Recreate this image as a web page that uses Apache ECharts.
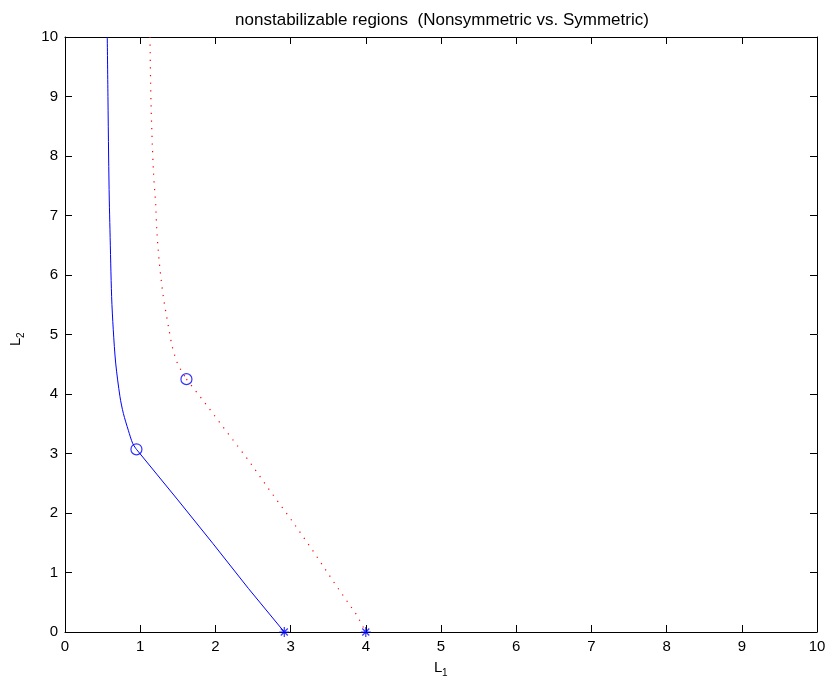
<!DOCTYPE html>
<html>
<head>
<meta charset="utf-8">
<script src="https://cdn.jsdelivr.net/npm/echarts@6/dist/echarts.min.js"></script>
<style>
  html, body { margin: 0; padding: 0; background: #fff; }
  #chart { width: 829px; height: 678px; }
</style>
</head>
<body>
<div id="chart"></div>
<script>
// Nonsymmetric boundary, curved upper branch down to the corner point: [L1, L2]
var nonsymUpperL1 = [0.562, 0.571, 0.580, 0.589, 0.598, 0.620, 0.642, 0.674, 0.731, 0.776, 0.842, 0.900, 0.950];
var nonsymUpperL2 = [10.00, 9.00, 8.00, 7.26, 6.76, 5.64, 5.08, 4.52, 3.955, 3.675, 3.39, 3.17, 3.07];
// Nonsymmetric boundary, straight lower branch from the corner to the L1 axis
var nonsymLowerL1 = [0.950, 1.500, 1.965, 2.440, 2.916];
var nonsymLowerL2 = [3.07, 2.22, 1.49, 0.73, 0.00];

// Symmetric boundary, curved upper branch down to the corner point
var symUpperL1 = [1.130, 1.144, 1.175, 1.206, 1.222, 1.255, 1.307, 1.383, 1.427, 1.494, 1.543, 1.615];
var symUpperL2 = [10.00, 8.88, 7.76, 7.18, 6.72, 6.20, 5.64, 5.08, 4.79, 4.52, 4.40, 4.25];
// Symmetric boundary, lower branch from the corner to the L1 axis
var symLowerL1 = [1.615, 1.831, 2.132, 2.438, 2.735, 3.027, 3.314, 3.600, 3.879, 4.000];
var symLowerL2 = [4.25, 3.90, 3.395, 2.89, 2.358, 1.854, 1.333, 0.79, 0.286, 0.00];

// Corner points (circles) and axis intercepts (asterisks)
var cornerL1 = [0.950, 1.615];
var cornerL2 = [3.07, 4.25];
var interceptL1 = [2.916, 4.000];
var interceptL2 = [0, 0];

// Axis ticks
var axisMin = 0, axisMax = 10, axisStep = 1;

var titleText = 'nonstabilizable regions  (Nonsymmetric vs. Symmetric)';

function zip(a, b) { return a.map(function (v, i) { return [v, b[i]]; }); }

var FONT = 'Liberation Sans, Arial, Helvetica, sans-serif';
var asterisk = 'path://M5,0L5,10M0,5L10,5M1.5,1.5L8.5,8.5M1.5,8.5L8.5,1.5';
var BLUE = '#0000ff', RED = '#ff0000';

function axisBase(pos, showLabels) {
  return {
    type: 'value', position: pos, min: axisMin, max: axisMax, interval: axisStep,
    axisLine: { show: true, onZero: false, lineStyle: { color: '#000', width: 1 } },
    axisTick: { show: true, inside: true, length: 7, lineStyle: { color: '#000', width: 1 } },
    axisLabel: { show: showLabels, color: '#000', fontSize: 15, fontFamily: FONT, margin: 7 },
    splitLine: { show: false }
  };
}

function curve(a, b, color, dashed, smooth) {
  return {
    type: 'line', data: zip(a, b), showSymbol: false, smooth: smooth, clip: true,
    lineStyle: dashed ? { color: color, width: 1.2, type: [1.2, 6.4] } : { color: color, width: 1 }
  };
}

var chart = echarts.init(document.getElementById('chart'), null, { renderer: 'canvas' });
chart.setOption({
  backgroundColor: '#fff',
  animation: false,
  grid: { left: 65, right: 12, top: 37, bottom: 46, containLabel: false },
  xAxis: [axisBase('bottom', true), axisBase('top', false)],
  yAxis: [axisBase('left', true), axisBase('right', false)],
  graphic: [
    { type: 'text', x: 442, y: 20, style: { text: titleText, fill: '#000', font: '17px ' + FONT, textAlign: 'center', textVerticalAlign: 'middle' } },
    { type: 'group', x: 434, y: 668, children: [
      { type: 'text', x: 0, y: 0, style: { text: 'L', fill: '#000', font: '15px ' + FONT, textAlign: 'left', textVerticalAlign: 'middle' } },
      { type: 'text', x: 8, y: 5, style: { text: '1', fill: '#000', font: '10px ' + FONT, textAlign: 'left', textVerticalAlign: 'middle' } }
    ] },
    { type: 'group', x: 16, y: 346, rotation: Math.PI / 2, children: [
      { type: 'text', x: 0, y: 0, style: { text: 'L', fill: '#000', font: '15px ' + FONT, textAlign: 'left', textVerticalAlign: 'middle' } },
      { type: 'text', x: 8, y: 5, style: { text: '2', fill: '#000', font: '10px ' + FONT, textAlign: 'left', textVerticalAlign: 'middle' } }
    ] }
  ],
  series: [
    curve(nonsymUpperL1, nonsymUpperL2, BLUE, false, 0.3),
    curve(nonsymLowerL1, nonsymLowerL2, BLUE, false, false),
    curve(symUpperL1, symUpperL2, RED, true, 0.3),
    curve(symLowerL1, symLowerL2, RED, true, false),
    {
      type: 'scatter', data: zip(cornerL1, cornerL2), symbol: 'circle', symbolSize: 11,
      itemStyle: { color: 'rgba(0,0,0,0)', borderColor: BLUE, borderWidth: 1.2 }
    },
    {
      type: 'scatter', data: zip(interceptL1, interceptL2), symbol: asterisk, symbolSize: 10, clip: false,
      itemStyle: { color: 'rgba(0,0,0,0)', borderColor: BLUE, borderWidth: 1.2 }
    }
  ]
});
</script>
</body>
</html>
